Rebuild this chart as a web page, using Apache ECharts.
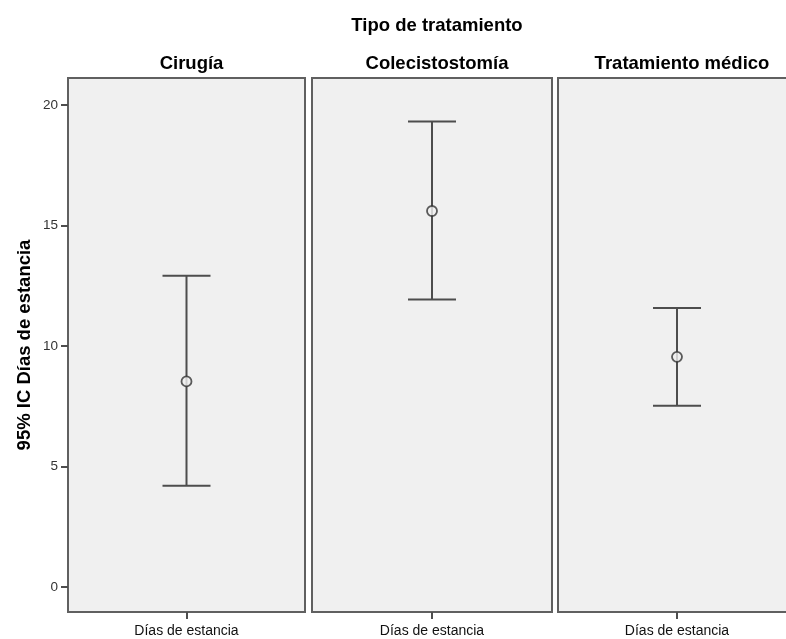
<!DOCTYPE html>
<html>
<head>
<meta charset="utf-8">
<script src="https://cdn.jsdelivr.net/npm/echarts@6/dist/echarts.min.js"></script>
<style>
  html, body { margin: 0; padding: 0; background: #ffffff; }
  #chart { width: 786px; height: 639px; }
</style>
</head>
<body>
<div id="chart"></div>
<script>
// Treatment groups and the 95% confidence interval of length of stay (days)
const groups = ['Cirugía', 'Colecistostomía', 'Tratamiento médico'];
const xCategory = ['Días de estancia'];
const means = [8.53, 15.6, 9.55];
const lower = [4.2, 11.93, 7.52];
const upper = [12.91, 19.31, 11.58];
const yTicks = [0, 5, 10, 15, 20];

const yMin = -1.04;
const yMax = 21.12;

// Panel placement (pixels); the last panel runs past the right edge
const panels = [
  { left: 68, right: 786 - 305 },
  { left: 312, right: 786 - 552 },
  { left: 558, right: -10 }
];
const panelTop = 78;
const panelBottom = 639 - 612;

const lineColor = '#4d4d4d';
const borderColor = '#606060';
const font = 'Arial, "Liberation Sans", sans-serif';

const grids = [], xAxes = [], yAxes = [], series = [], titles = [];

groups.forEach((g, i) => {
  const p = panels[i];
  grids.push({
    left: p.left, top: panelTop, right: p.right, bottom: panelBottom,
    outerBoundsMode: 'none',
    show: true, backgroundColor: '#f0f0f0',
    borderColor: borderColor, borderWidth: 2
  });
  xAxes.push({
    type: 'category', gridIndex: i, data: xCategory,
    axisLine: { show: false, onZero: false },
    axisTick: { show: true, alignWithLabel: true, length: 7, lineStyle: { color: lineColor, width: 2 } },
    axisLabel: { color: '#111', fontFamily: font, fontSize: 14, margin: 12 }
  });
  yAxes.push({
    type: 'value', gridIndex: i, min: yMin, max: yMax,
    splitLine: { show: false },
    axisLine: { show: i === 0, lineStyle: { color: borderColor, width: 2 } },
    axisTick: { show: i === 0, customValues: yTicks, length: 7, lineStyle: { color: lineColor, width: 2 } },
    axisLabel: { show: i === 0, customValues: yTicks, color: '#333', fontFamily: font, fontSize: 13.5, margin: 10 },
    name: i === 0 ? '95% IC Días de estancia' : '',
    nameLocation: 'middle', nameGap: 34, nameRotate: 90,
    nameTextStyle: { fontFamily: font, fontSize: 18.5, fontWeight: 'bold', color: '#000' }
  });

  // Confidence interval whiskers with caps
  series.push({
    type: 'custom', xAxisIndex: i, yAxisIndex: i,
    data: [[0, lower[i], upper[i]]],
    renderItem: function (params, api) {
      const lo = api.coord([api.value(0), api.value(1)]);
      const hi = api.coord([api.value(0), api.value(2)]);
      const half = 24;
      const style = { stroke: lineColor, lineWidth: 2 };
      return {
        type: 'group',
        children: [
          { type: 'line', shape: { x1: lo[0], y1: lo[1], x2: hi[0], y2: hi[1] }, style: style },
          { type: 'line', shape: { x1: hi[0] - half, y1: hi[1], x2: hi[0] + half, y2: hi[1] }, style: style },
          { type: 'line', shape: { x1: lo[0] - half, y1: lo[1], x2: lo[0] + half, y2: lo[1] }, style: style }
        ]
      };
    },
    z: 2, silent: true
  });
  // Mean marker
  series.push({
    type: 'scatter', xAxisIndex: i, yAxisIndex: i,
    data: [[0, means[i]]],
    symbol: 'circle', symbolSize: 10,
    itemStyle: { color: '#f0f0f0', borderColor: '#333', borderWidth: 1.8 },
    z: 3, silent: true
  });
});

// Panel headers centred over each panel
const panelCenters = [186.5, 432, 677];
groups.forEach((g, i) => {
  titles.push({
    text: g, left: panelCenters[i], top: 49, textAlign: 'center',
    textStyle: { fontFamily: font, fontSize: 18.5, fontWeight: 'bold', color: '#000' }
  });
});
titles.push({
  text: 'Tipo de tratamiento', left: 432, top: 11, textAlign: 'center',
  textStyle: { fontFamily: font, fontSize: 18.5, fontWeight: 'bold', color: '#000' }
});

const chart = echarts.init(document.getElementById('chart'), null, { renderer: 'canvas' });
chart.setOption({
  animation: false,
  backgroundColor: '#ffffff',
  title: titles,
  grid: grids,
  xAxis: xAxes,
  yAxis: yAxes,
  series: series
});
</script>
</body>
</html>
